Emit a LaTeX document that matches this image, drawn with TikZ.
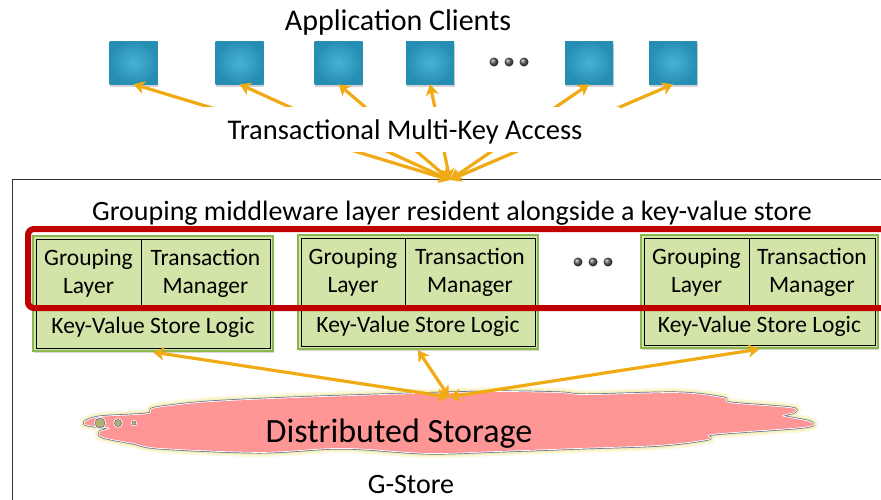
\documentclass[tikz,border=0pt]{standalone}
\usepackage{fontspec}
\setmainfont{Carlito}
\usetikzlibrary{arrows.meta,shadows}
\definecolor{arr}{RGB}{240,170,20}
\definecolor{tealdark}{RGB}{38,142,178}
\definecolor{teallight}{RGB}{72,178,212}
\definecolor{gfill}{RGB}{210,228,168}
\definecolor{gborder}{RGB}{140,182,78}
\definecolor{redline}{RGB}{190,0,0}
\definecolor{pinkfill}{RGB}{255,150,150}
\definecolor{bluegray}{RGB}{92,110,152}
\definecolor{olive}{RGB}{182,176,110}
\definecolor{glow}{RGB}{240,230,120}
\begin{document}
\begin{tikzpicture}[x=1pt,y=-1pt,
  client/.style={rectangle, minimum width=48pt, minimum height=43pt, inner sep=0pt,
    inner color=teallight, outer color=tealdark,
    drop shadow={shadow xshift=0.5pt, shadow yshift=-2.5pt, opacity=0.35}},
  balldot/.style={circle, minimum size=9pt, inner sep=0pt, ball color=gray!70!black},
  conn/.style={draw=arr, line width=3.2pt, <->, >={Stealth[length=11pt,width=13pt,inset=3pt]}},
  gframe/.style={draw=gborder, line width=2.2pt, fill=gfill, inner sep=0pt,
    drop shadow={shadow xshift=1pt, shadow yshift=-2pt, opacity=0.3}},
  cell/.style={draw=black, line width=0.8pt, fill=gfill, inner sep=0pt, align=center,
    font=\fontsize{23.5}{28}\selectfont},
  lbl/.style={inner sep=0pt}
]
\useasboundingbox (0,0) rectangle (881,499);
\clip (0,0) rectangle (881,499);
\fill[white] (0,0) rectangle (881,499);

% outer G-Store frame
\draw[line width=1pt, draw=black!80] (12,179) rectangle (900,520);

% title
\node[lbl, anchor=base, font=\fontsize{30}{36}\selectfont] (title) at (398,30) {Application Clients};

% clients
\node[client] (c1) at (133.5,62.5) {};
\node[client] (c2) at (239.5,62.5) {};
\node[client] (c3) at (338.5,62.5) {};
\node[client] (c4) at (430,62.5) {};
\node[client] (c5) at (589,62.5) {};
\node[client] (c6) at (673,62.5) {};
\node[balldot] (d1) at (494,62) {};
\node[balldot] (d2) at (509,62) {};
\node[balldot] (d3) at (524,62) {};

\coordinate (hubtop) at (450,180);
\foreach \i in {1,...,6} \draw[conn] (hubtop) -- (c\i.south);

\node[fill=white, minimum width=430pt, minimum height=45pt, text height=19pt, text depth=0pt,
  inner sep=0pt, font=\fontsize{28.5}{34}\selectfont] (access) at (405,129.5) {Transactional Multi-Key Access};

% middleware heading
\node[lbl, anchor=base, font=\fontsize{28}{33}\selectfont] (mid) at (452,220)
  {Grouping middleware layer resident alongside a key-value store};

% box 1
\node[gframe, minimum width=240pt, minimum height=115pt] (f1) at (153,293.5) {};
\node[cell, minimum width=105pt, minimum height=68pt] (g1) at (88.5,273) {Grouping\\Layer};
\node[cell, minimum width=129pt, minimum height=68pt] (t1) at (205.5,273) {Transaction\\Manager};
\node[cell, minimum width=234pt, minimum height=41pt] (k1) at (153,327.5) {Key-Value Store Logic};
% box 2
\node[gframe, minimum width=240pt, minimum height=114pt] (f2) at (418,292) {};
\node[cell, minimum width=104pt, minimum height=69pt] (g2) at (353,272.5) {Grouping\\Layer};
\node[cell, minimum width=130pt, minimum height=69pt] (t2) at (470,272.5) {Transaction\\Manager};
\node[cell, minimum width=234pt, minimum height=39pt] (k2) at (418,326.5) {Key-Value Store Logic};
% box 3
\node[gframe, minimum width=237pt, minimum height=113pt] (f3) at (759.5,291.5) {};
\node[cell, minimum width=105pt, minimum height=69pt] (g3) at (696.5,272.5) {Grouping\\Layer};
\node[cell, minimum width=126pt, minimum height=69pt] (t3) at (812,272.5) {Transaction\\Manager};
\node[cell, minimum width=231pt, minimum height=38pt] (k3) at (759.5,326) {Key-Value Store Logic};

\node[balldot] (e1) at (578,262) {};
\node[balldot] (e2) at (593,262) {};
\node[balldot] (e3) at (608,262) {};

% red grouping rectangle
\draw[draw=redline, line width=6pt, rounded corners=6pt] (28,229) rectangle (910,308);

% cloud
\path[save path=\cloudp] plot[smooth cycle, tension=0.55] coordinates {
 (85,422) (100,417) (147,414) (152,409) (170,406) (210,402) (293,398) (413,394)
 (500,392) (560,393) (587,395) (677,393) (723,398) (730,403) (790,408) (794,412)
 (782,416) (810,422) (803,427) (713,434) (708,439) (660,445) (580,448) (500,451)
 (427,453) (343,448) (260,452) (160,448) (133,443) (103,437) (100,432) (110,428) (88,425)};
\path[use path=\cloudp, draw=glow, line width=10pt, opacity=0.25, line join=round];
\path[use path=\cloudp, draw=glow, line width=6pt, opacity=0.4, line join=round];
\path[use path=\cloudp, draw=bluegray, line width=3pt, line join=round];
\path[use path=\cloudp, draw=white, line width=1.6pt, line join=round];
\path[use path=\cloudp, fill=pinkfill];
\draw[bluegray, line width=0.6pt, fill=olive, preaction={draw=white, line width=2.2pt}] (100,423) circle (5);
\draw[bluegray, line width=0.6pt, fill=olive, preaction={draw=white, line width=2.2pt}] (118,423) circle (3.5);
\draw[bluegray, line width=0.5pt, fill=olive, preaction={draw=white, line width=2pt}] (134,423) circle (2);

\node[lbl, anchor=base, font=\fontsize{34}{40}\selectfont] (storage) at (399,442) {Distributed Storage};

\coordinate (hubbot) at (449,397);
\draw[conn] (hubbot) -- (f1.south);
\draw[conn] (hubbot) -- (f2.south);
\draw[conn] (hubbot) -- (f3.south);

\node[lbl, anchor=base, font=\fontsize{28}{34}\selectfont] (gstore) at (411,493) {G-Store};
\end{tikzpicture}
\end{document}
